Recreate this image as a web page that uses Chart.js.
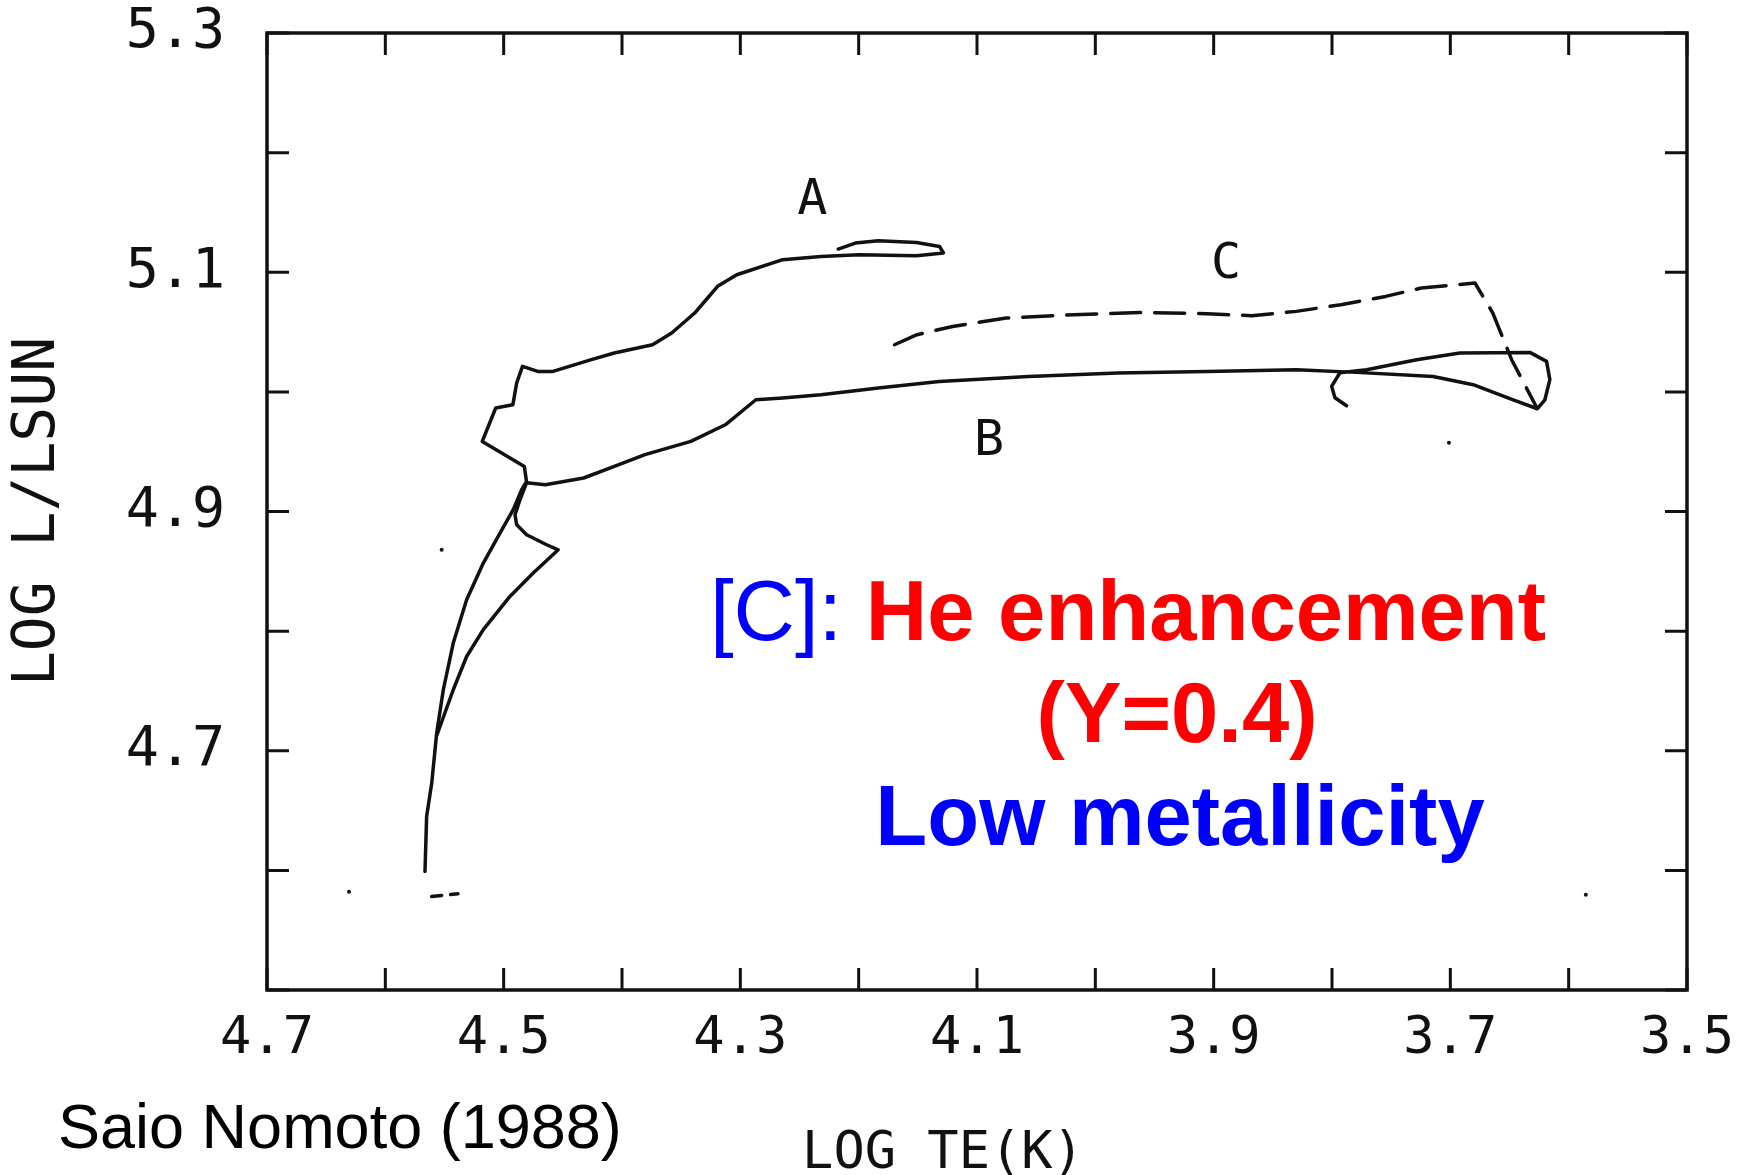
<!DOCTYPE html>
<html>
<head>
<meta charset="utf-8">
<title>Saio Nomoto (1988) tracks</title>
<script src="https://cdn.jsdelivr.net/npm/chart.js@4.4.1/dist/chart.umd.min.js"></script>
<style>
  body { margin: 0; background: #fff; }
  #wrap { width: 1748px; height: 1175px; }
</style>
</head>
<body>
<div id="wrap"><canvas id="hrChart" width="1748" height="1175"></canvas></div>
<script>
const ctx = document.getElementById("hrChart");

// track A (solid) : log Te, log L/Lsun
const trackA_logT = [4.5665, 4.5651, 4.5608, 4.5566, 4.551, 4.5426, 4.5313, 4.5172, 4.5031, 4.4919, 4.4848, 4.4807, 4.4825, 4.5181, 4.5067, 4.4922, 4.489, 4.4841, 4.4712, 4.4583, 4.4259, 4.4065, 4.3742, 4.358, 4.3386, 4.3289, 4.3192, 4.303, 4.2642, 4.2319, 4.1998, 4.1511, 4.1284, 4.1317, 4.1511, 4.1834, 4.2028, 4.2173];
const trackA_logL = [4.5991, 4.6451, 4.673, 4.7148, 4.751, 4.79, 4.8262, 4.8569, 4.882, 4.9015, 4.9182, 4.9249, 4.9377, 4.9586, 4.9865, 4.9893, 5.0074, 5.0213, 5.0171, 5.0171, 5.0269, 5.0325, 5.0394, 5.0492, 5.0659, 5.077, 5.0882, 5.0979, 5.1105, 5.1132, 5.1147, 5.1138, 5.1161, 5.1216, 5.1249, 5.1264, 5.1244, 5.1194];

// track B (solid)
const trackB_logT = [4.5563, 4.5426, 4.5313, 4.5172, 4.4947, 4.475, 4.4539, 4.4637, 4.4806, 4.489, 4.4904, 4.4862, 4.4807, 4.4648, 4.4324, 4.4065, 4.3806, 4.3418, 4.3127, 4.2869, 4.2642, 4.2319, 4.1834, 4.1319, 4.0564, 3.981, 3.9057, 3.8302, 3.7792, 3.7145, 3.6807, 3.6469, 3.6264, 3.6201, 3.6159, 3.6187, 3.6328, 3.6919, 3.7285, 3.7708, 3.7933, 3.8003, 3.7975, 3.7877];
const trackB_logL = [4.7134, 4.751, 4.7788, 4.8012, 4.829, 4.8486, 4.868, 4.8722, 4.8806, 4.8889, 4.8973, 4.9098, 4.924, 4.9224, 4.928, 4.9377, 4.9475, 4.9586, 4.9725, 4.9934, 4.9949, 4.9976, 5.0032, 5.0087, 5.0129, 5.0158, 5.0171, 5.0185, 5.0163, 5.0129, 5.006, 4.9934, 4.9859, 4.9934, 5.0102, 5.0255, 5.033, 5.0325, 5.0269, 5.0185, 5.016, 5.0046, 4.9951, 4.9884];

// track C (dashed)
const trackC_logT = [4.1697, 4.1507, 4.1206, 4.0753, 4.0188, 3.9623, 3.9057, 3.8678, 3.8302, 3.7925, 3.7547, 3.7245, 3.6944, 3.6792, 3.6641, 3.6482, 3.6269];
const trackC_logL = [5.0394, 5.0478, 5.0547, 5.0617, 5.0645, 5.0664, 5.0653, 5.0637, 5.0673, 5.0729, 5.0798, 5.0868, 5.0896, 5.091, 5.0659, 5.0269, 4.9867];

// short dashed stub near the bottom of the main sequence
const stubC_logT = [4.5608, 4.5386];
const stubC_logL = [4.5782, 4.5805];

// stray specks in the scan
const speck_logT = [4.6307, 3.5855, 3.7012, 4.5524];
const speck_logL = [4.5821, 4.5796, 4.9575, 4.868];

// track labels
const labelNames = ["A", "B", "C"];
const label_logT = [4.2391, 4.0899, 3.8896];
const label_logL = [5.1598, 4.9578, 5.1063];

// tick labels
const xTickLabels = ["4.7", "4.5", "4.3", "4.1", "3.9", "3.7", "3.5"];
const yTickLabels = ["5.3", "5.1", "4.9", "4.7"];

const INK = "#111";

function pts(ts, ls) {
  return ts.map((t, i) => ({ x: t, y: ls[i] }));
}

function line(label, ts, ls, dash) {
  return {
    label: label,
    data: pts(ts, ls),
    showLine: true,
    borderColor: INK,
    borderWidth: 3.5,
    borderDash: dash || [],
    borderCapStyle: "round",
    borderJoinStyle: "round",
    pointRadius: 0,
    tension: 0,
  };
}

const overlay = {
  id: "overlay",
  afterDatasetsDraw(chart) {
    const c = chart.ctx;
    const a = chart.chartArea;
    const sx = chart.scales.x;
    const sy = chart.scales.y;
    c.save();
    c.strokeStyle = INK;
    c.lineWidth = 3.5;
    c.strokeRect(a.left, a.top, a.right - a.left, a.bottom - a.top);

    // inward tick marks on all four sides
    const tl = 22;
    c.lineWidth = 3;
    c.beginPath();
    sx.ticks.forEach((t) => {
      const px = sx.getPixelForValue(t.value);
      c.moveTo(px, a.bottom); c.lineTo(px, a.bottom - tl);
      c.moveTo(px, a.top); c.lineTo(px, a.top + tl);
    });
    sy.ticks.forEach((t) => {
      const py = sy.getPixelForValue(t.value);
      c.moveTo(a.left, py); c.lineTo(a.left + tl, py);
      c.moveTo(a.right, py); c.lineTo(a.right - tl, py);
    });
    c.stroke();

    // A / B / C
    c.fillStyle = INK;
    c.font = '50px "DejaVu Sans Mono"';
    c.textAlign = "center";
    c.textBaseline = "middle";
    labelNames.forEach((n, i) => {
      c.fillText(n, sx.getPixelForValue(label_logT[i]), sy.getPixelForValue(label_logL[i]));
    });

    // x axis title
    c.font = '52px "DejaVu Sans Mono"';
    c.fillText("LOG TE(K)", 943, 1154);

    // annotation
    c.textBaseline = "alphabetic";
    c.textAlign = "left";
    c.font = '85px "Liberation Sans"';
    c.fillStyle = "#0000ff";
    const pre = "[C]: ";
    c.fillText(pre, 710, 640);
    const w = c.measureText(pre).width;
    c.font = 'bold 85px "Liberation Sans"';
    c.fillStyle = "#ff0000";
    c.fillText("He enhancement", 710 + w, 640);
    c.textAlign = "center";
    c.fillText("(Y=0.4)", 1177, 742);
    c.fillStyle = "#0000ff";
    c.fillText("Low metallicity", 1180, 845);

    // credit
    c.textAlign = "left";
    c.fillStyle = "#000";
    c.font = '63px "Liberation Sans"';
    c.fillText("Saio Nomoto (1988)", 58, 1148);
    c.restore();
  },
};

new Chart(ctx, {
  type: "scatter",
  data: {
    datasets: [
      line("A", trackA_logT, trackA_logL),
      line("B", trackB_logT, trackB_logL),
      line("C", trackC_logT, trackC_logL, [30, 14]),
      line("C start", stubC_logT, stubC_logL, [10, 9]),
      {
        label: "specks",
        data: pts(speck_logT, speck_logL),
        backgroundColor: INK,
        borderWidth: 0,
        pointRadius: 2,
      },
    ],
  },
  options: {
    responsive: false,
    animation: false,
    layout: { padding: { top: 33, right: 61, left: 0, bottom: 0 } },
    plugins: { legend: { display: false }, tooltip: { enabled: false } },
    scales: {
      x: {
        type: "linear",
        reverse: true,
        min: 3.5,
        max: 4.7,
        afterFit: (s) => {
          s.height = 185;
          s.paddingLeft = 0;
          s.paddingRight = 0;
        },
        grid: { display: false, drawTicks: false },
        border: { display: false },
        ticks: {
          stepSize: 0.1,
          autoSkip: false,
          maxRotation: 0,
          padding: 18,
          color: INK,
          font: { family: "DejaVu Sans Mono", size: 52 },
          callback: (v) => {
            const s = v.toFixed(1);
            return xTickLabels.includes(s) ? s : "";
          },
        },
      },
      y: {
        type: "linear",
        min: 4.5,
        max: 5.3,
        afterFit: (s) => {
          s.width = 267;
          s.paddingTop = 0;
          s.paddingBottom = 0;
        },
        grid: { display: false, drawTicks: false },
        border: { display: false },
        ticks: {
          stepSize: 0.1,
          autoSkip: false,
          padding: 42,
          color: INK,
          font: { family: "DejaVu Sans Mono", size: 55 },
          callback: (v) => {
            const s = v.toFixed(1);
            return yTickLabels.includes(s) ? s : "";
          },
        },
        title: {
          display: true,
          text: "LOG L/LSUN",
          color: INK,
          font: { family: "DejaVu Sans Mono", size: 58 },
          padding: { top: 4, bottom: 0 },
        },
      },
    },
  },
  plugins: [overlay],
});
</script>
</body>
</html>
